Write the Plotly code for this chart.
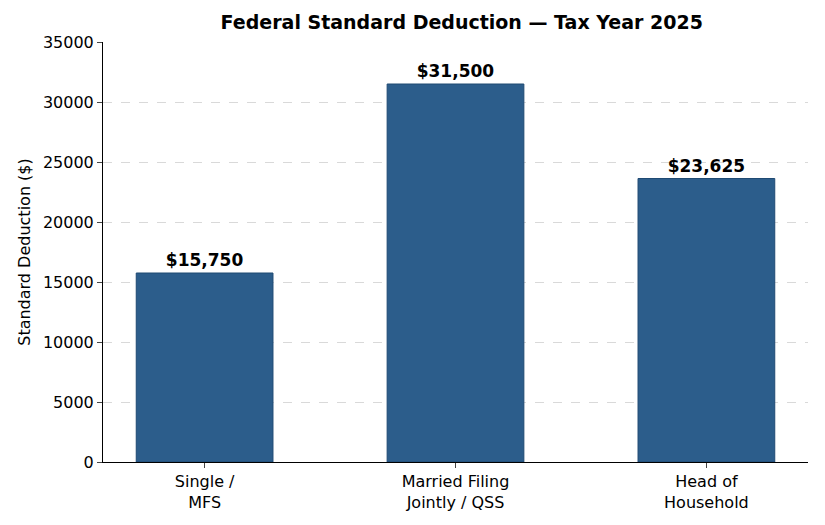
import plotly.graph_objects as go

categories = ["Single /<br>MFS", "Married Filing<br>Jointly / QSS", "Head of<br>Household"]
deductions = [15750, 31500, 23625]
labels = ["$15,750", "$31,500", "$23,625"]

fig = go.Figure(
    go.Bar(
        x=[0, 1, 2],
        y=deductions,
        width=0.545,
        marker=dict(color="#2c5d8b", line=dict(color="#1f4a73", width=1)),
        text=labels,
        textposition="outside",
        cliponaxis=False,
        textfont=dict(family="DejaVu Sans", size=17, color="black", weight="bold"),
    )
)

fig.update_layout(
    width=825,
    height=525,
    margin=dict(l=95, r=25, t=34, b=71),
    plot_bgcolor="white",
    paper_bgcolor="white",
    font=dict(family="DejaVu Sans", size=16, color="black"),
    title=dict(
        text="<b>Federal Standard Deduction — Tax Year 2025</b>",
        x=0.55, xanchor="center", y=0.985, yanchor="top",
        font=dict(size=19),
    ),
    showlegend=False,
)
fig.update_xaxes(
    tickvals=[0, 1, 2], ticktext=categories, range=[-0.405, 2.405],
    showline=True, linecolor="black", ticks="outside", ticklen=5,
    showgrid=False,
)
fig.update_yaxes(
    range=[0, 35000], dtick=5000, tickformat="d",
    showline=True, linecolor="black", ticks="outside", ticklen=5,
    showgrid=True, gridcolor="#d9d9d9", griddash="dash", zeroline=False,
    title=dict(text="Standard Deduction ($)", font=dict(size=16), standoff=8),
)

fig.write_html("out.html")
